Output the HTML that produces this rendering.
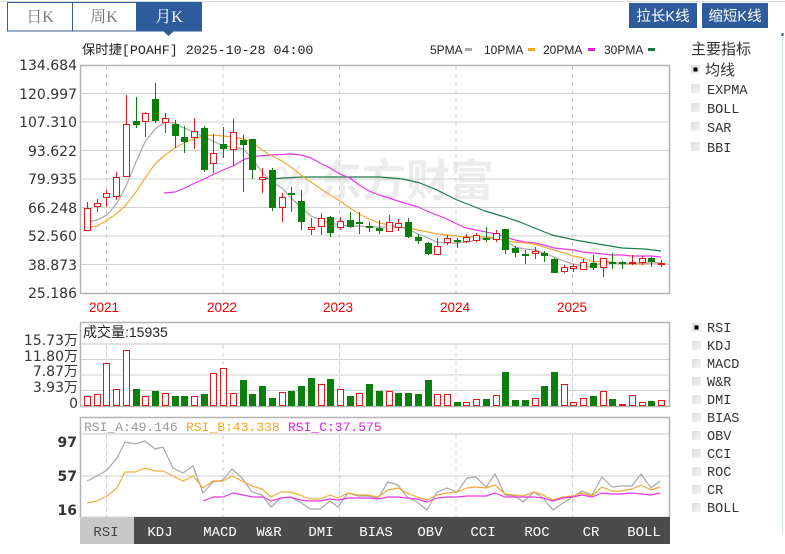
<!DOCTYPE html>
<html><head><meta charset="utf-8">
<style>
html,body{margin:0;padding:0;background:#fff;}
svg{display:block;}
</style></head>
<body>
<svg width="785" height="554" viewBox="0 0 785 554" xmlns="http://www.w3.org/2000/svg">
<rect x="0" y="0" width="785" height="554" fill="#fff"/>
<!-- top bar -->
<line x1="0" y1="1.5" x2="785" y2="1.5" stroke="#d8d8d8" stroke-width="1"/>
<rect x="7.5" y="2.5" width="129" height="28.5" fill="#fff" stroke="#3a5f9a" stroke-width="1"/>
<line x1="72.5" y1="2.5" x2="72.5" y2="31" stroke="#3a5f9a"/>
<rect x="136" y="2" width="66" height="29.5" fill="#2d5b9b"/>
<polygon points="163,31 174,31 168.5,36" fill="#2d5b9b"/>
<g font-family="Liberation Serif, Noto Serif CJK SC, serif" font-size="16" text-anchor="middle">
<text x="40" y="22" fill="#777">日K</text>
<text x="104" y="22" fill="#777">周K</text>
<text x="169" y="22" fill="#fff">月K</text>
</g>
<rect x="629" y="3" width="68" height="25" fill="#2d5b9b"/>
<rect x="702" y="3" width="66" height="25" fill="#2d5b9b"/>
<g font-family="Liberation Sans, Noto Sans CJK SC, sans-serif" font-size="14.5" fill="#fff" text-anchor="middle">
<text x="663" y="21">拉长K线</text>
<text x="735" y="21">缩短K线</text>
</g>
<!-- right vertical line -->
<line x1="782.5" y1="33" x2="782.5" y2="532" stroke="#d3dfec"/>
<line x1="782.5" y1="33" x2="782.5" y2="36" stroke="#2d5b9b" stroke-width="2"/>

<!-- title -->
<text x="82" y="54" font-family="Liberation Mono, Noto Sans CJK SC, monospace" font-size="13.3" fill="#222">保时捷[POAHF] 2025-10-28 04:00</text>
<!-- legend -->
<g font-family="Liberation Sans, sans-serif" font-size="12" fill="#222">
<text x="430" y="54">5PMA</text>
<rect x="465" y="48" width="7" height="3" fill="#aaa"/>
<text x="484" y="54">10PMA</text>
<rect x="528" y="48" width="7" height="3" fill="#f0a820"/>
<text x="543" y="54">20PMA</text>
<rect x="588" y="48" width="7" height="3" fill="#e020e0"/>
<text x="604" y="54">30PMA</text>
<rect x="648" y="48" width="7" height="3" fill="#1a7a4a"/>
</g>

<!-- watermark -->
<text x="318" y="196" font-family="Noto Sans CJK SC, sans-serif" font-size="44" font-weight="bold" fill="#ececec">东方财富</text>
<text x="272" y="196" font-family="Noto Sans CJK SC, sans-serif" font-size="40" font-weight="bold" fill="#efefef">%</text>

<!-- price panel -->
<g stroke="#d2d2d2" stroke-width="1">
<line x1="80" y1="93.5" x2="670" y2="93.5"/>
<line x1="80" y1="122" x2="670" y2="122"/>
<line x1="80" y1="150.5" x2="670" y2="150.5"/>
<line x1="80" y1="179" x2="670" y2="179"/>
<line x1="80" y1="207.5" x2="670" y2="207.5"/>
<line x1="80" y1="236" x2="670" y2="236"/>
<line x1="80" y1="264.5" x2="670" y2="264.5"/>
</g>
<g stroke="#cfcfcf" stroke-width="1" stroke-dasharray="4,4">
<line x1="106.5" y1="66" x2="106.5" y2="293"/>
<line x1="223" y1="66" x2="223" y2="293"/>
<line x1="339.5" y1="66" x2="339.5" y2="293"/>
<line x1="456" y1="66" x2="456" y2="293"/>
<line x1="572.5" y1="66" x2="572.5" y2="293"/>
<line x1="106.5" y1="345" x2="106.5" y2="406"/>
<line x1="223" y1="345" x2="223" y2="406"/>
<line x1="339.5" y1="345" x2="339.5" y2="406"/>
<line x1="456" y1="345" x2="456" y2="406"/>
<line x1="572.5" y1="345" x2="572.5" y2="406"/>
<line x1="106.5" y1="435" x2="106.5" y2="517"/>
<line x1="223" y1="435" x2="223" y2="517"/>
<line x1="339.5" y1="435" x2="339.5" y2="517"/>
<line x1="456" y1="435" x2="456" y2="517"/>
<line x1="572.5" y1="435" x2="572.5" y2="517"/>
</g>
<rect x="80.5" y="65.5" width="589" height="228" fill="none" stroke="#b4b4b4" stroke-width="1.5"/>

<g font-family="DejaVu Sans, sans-serif" font-size="14" fill="#333" text-anchor="end">
<text x="77" y="70">134.684</text>
<text x="77" y="99">120.997</text>
<text x="77" y="127">107.310</text>
<text x="77" y="156">93.622</text>
<text x="77" y="184">79.935</text>
<text x="77" y="213">66.248</text>
<text x="77" y="241">52.560</text>
<text x="77" y="270">38.873</text>
<text x="77" y="298">25.186</text>
</g>
<g font-family="Liberation Sans, sans-serif" font-size="13.5" fill="#e00" text-anchor="middle">
<text x="104" y="312">2021</text>
<text x="222" y="312">2022</text>
<text x="338" y="312">2023</text>
<text x="455" y="312">2024</text>
<text x="572" y="312">2025</text>
</g>

<!-- MAs -->
<g fill="none" stroke-width="1.2" stroke-linejoin="round">
<polyline stroke="#1f7a4e" points="262,178 272,179 283,178 303,177 340,177 380,177 403,179 420,183 437,190 457,200 470,205 485,211 505,217 520,222 532,227 552,235 575,240 598,244 622,248 645,249 661,251"/>
<polyline stroke="#e838e8" points="164,193 175,192 185,188 195,183 204,179 214,174 223,170 233,166 245,159 258,156 272,155 291,154 301,155 311,158 320,163 330,168 340,174 350,178 359,185 369,191 379,195 389,198 398,201 408,204 418,207 427,211 437,215 447,219 457,224 466,228 476,230 486,232 496,234 505,237 515,240 525,242 535,243 544,245 554,248 564,249 574,250 583,252 593,253 603,254 612,255 622,255 632,256 642,256 651,256 661,257"/>
<polyline stroke="#eeab3a" points="87,228 97,226 106,221 116,214 126,205 136,192 145,178 155,164 165,155 175,148 184,143 194,139 204,136 213,135 223,136 233,137 243,139 252,142 262,150 272,156 282,161 291,167 301,175 311,182 321,189 330,195 340,201 350,208 359,214 369,219 379,223 389,225 398,227 408,228 418,230 428,232 437,234 447,235 457,236 466,237 476,237 486,237 496,238 505,241 515,242 525,243 535,244 544,247 554,250 564,253 573,256 583,258 593,262 603,261 612,262 622,264 632,264 642,264 651,263 661,263"/>
<polyline stroke="#a8a8a8" points="87,222 97,220 107,215 117,203 126,186 136,162 145,142 155,129 165,122 175,123 184,128 194,132 204,137 213,141 223,146 233,147 243,149 252,158 262,172 272,182 282,188 291,198 301,207 311,216 321,220 330,223 340,225 350,226 359,226 369,227 379,227 389,227 398,227 408,229 418,234 428,238 437,242 447,243 457,243 466,242 476,240 486,238 496,239 505,240 515,247 525,249 535,250 544,253 554,257 564,261 573,264 583,266 593,267 603,262 612,263 622,264 632,263 642,263 651,263 661,263"/>
</g>

<!-- red candles -->
<g stroke="#e8141a" stroke-width="1" fill="#fff">
<line x1="87.5" y1="202" x2="87.5" y2="231"/><rect x="84.5" y="208.5" width="6" height="22"/>
<line x1="97.5" y1="199" x2="97.5" y2="212"/><rect x="94.5" y="203.5" width="6" height="3"/>
<line x1="106.5" y1="190" x2="106.5" y2="207"/><rect x="103.5" y="193.5" width="6" height="4"/>
<line x1="116.5" y1="172" x2="116.5" y2="200"/><rect x="113.5" y="177.5" width="6" height="19"/>
<line x1="126.5" y1="95" x2="126.5" y2="177"/><rect x="123.5" y="124.5" width="6" height="52"/>
<line x1="145.5" y1="112" x2="145.5" y2="137"/><rect x="142.5" y="113.5" width="6" height="8"/>
<line x1="165.5" y1="113" x2="165.5" y2="133"/><rect x="162.5" y="118.5" width="6" height="4"/>
<line x1="194.5" y1="118" x2="194.5" y2="149"/><rect x="191.5" y="131.5" width="6" height="6"/>
<line x1="213.5" y1="134" x2="213.5" y2="173"/><rect x="210.5" y="153.5" width="6" height="10"/>
<line x1="233.5" y1="119" x2="233.5" y2="166"/><rect x="230.5" y="132.5" width="6" height="17"/>
<line x1="262.5" y1="168" x2="262.5" y2="193"/><rect x="259.5" y="177.5" width="6" height="2"/>
<line x1="282.5" y1="193" x2="282.5" y2="222"/><rect x="279.5" y="197.5" width="6" height="10"/>
<line x1="311.5" y1="218" x2="311.5" y2="235"/><rect x="308.5" y="227.5" width="6" height="2"/>
<line x1="321.5" y1="213" x2="321.5" y2="235"/><rect x="318.5" y="218.5" width="6" height="8"/>
<line x1="340.5" y1="217" x2="340.5" y2="230"/><rect x="337.5" y="221.5" width="6" height="6"/>
<line x1="389.5" y1="215" x2="389.5" y2="232"/><rect x="386.5" y="222.5" width="6" height="9"/>
<line x1="398.5" y1="219" x2="398.5" y2="231"/><rect x="395.5" y="223.5" width="6" height="4"/>
<line x1="437.5" y1="238" x2="437.5" y2="254"/><rect x="434.5" y="246.5" width="6" height="8"/>
<line x1="447.5" y1="235" x2="447.5" y2="245"/><rect x="444.5" y="238.5" width="6" height="4"/>
<line x1="466.5" y1="234" x2="466.5" y2="243"/><rect x="463.5" y="237.5" width="6" height="4"/>
<line x1="476.5" y1="233" x2="476.5" y2="242"/><rect x="473.5" y="235.5" width="6" height="5"/>
<line x1="496.5" y1="230" x2="496.5" y2="242"/><rect x="493.5" y="233.5" width="6" height="6"/>
<line x1="535.5" y1="247" x2="535.5" y2="259"/><rect x="532.5" y="251.5" width="6" height="2"/>
<line x1="564.5" y1="265" x2="564.5" y2="273"/><rect x="561.5" y="267.5" width="6" height="4"/>
<line x1="573.5" y1="264" x2="573.5" y2="272"/><rect x="570.5" y="266.5" width="6" height="2"/>
<line x1="583.5" y1="259" x2="583.5" y2="270"/><rect x="580.5" y="262.5" width="6" height="7"/>
<line x1="603.5" y1="258" x2="603.5" y2="277"/><rect x="600.5" y="258.5" width="6" height="9"/>
<line x1="632.5" y1="255" x2="632.5" y2="265"/><rect x="629.5" y="262.5" width="6" height="1"/>
<line x1="642.5" y1="256" x2="642.5" y2="265"/><rect x="639.5" y="258.5" width="6" height="4"/>
<line x1="661.5" y1="260" x2="661.5" y2="267"/><rect x="658.5" y="263.5" width="6" height="1"/>
</g>
<!-- green candles -->
<g stroke="#0b7f0b" stroke-width="1" fill="#0b7f0b">
<line x1="136.5" y1="97" x2="136.5" y2="128"/><rect x="133" y="121" width="7" height="4" stroke="none"/>
<line x1="155.5" y1="83" x2="155.5" y2="123"/><rect x="152" y="99" width="7" height="22" stroke="none"/>
<line x1="175.5" y1="120" x2="175.5" y2="148"/><rect x="172" y="124" width="7" height="12" stroke="none"/>
<line x1="184.5" y1="126" x2="184.5" y2="153"/><rect x="181" y="137" width="7" height="5" stroke="none"/>
<line x1="204.5" y1="126" x2="204.5" y2="172"/><rect x="201" y="128" width="7" height="42" stroke="none"/>
<line x1="223.5" y1="127" x2="223.5" y2="158"/><rect x="220" y="144" width="7" height="5" stroke="none"/>
<line x1="243.5" y1="135" x2="243.5" y2="192"/><rect x="240" y="140" width="7" height="5" stroke="none"/>
<line x1="252.5" y1="139" x2="252.5" y2="179"/><rect x="249" y="139" width="7" height="31" stroke="none"/>
<line x1="272.5" y1="168" x2="272.5" y2="211"/><rect x="269" y="170" width="7" height="38" stroke="none"/>
<line x1="291.5" y1="187" x2="291.5" y2="212"/><rect x="288" y="193" width="7" height="2" stroke="none"/>
<line x1="301.5" y1="190" x2="301.5" y2="230"/><rect x="298" y="201" width="7" height="21" stroke="none"/>
<line x1="330.5" y1="216" x2="330.5" y2="237"/><rect x="327" y="217" width="7" height="16" stroke="none"/>
<line x1="350.5" y1="212" x2="350.5" y2="228"/><rect x="347" y="220" width="7" height="7" stroke="none"/>
<line x1="359.5" y1="212" x2="359.5" y2="234"/><rect x="356" y="222" width="7" height="2" stroke="none"/>
<line x1="369.5" y1="222" x2="369.5" y2="232"/><rect x="366" y="226" width="7" height="2" stroke="none"/>
<line x1="379.5" y1="220" x2="379.5" y2="234"/><rect x="376" y="228" width="7" height="3" stroke="none"/>
<line x1="408.5" y1="218" x2="408.5" y2="238"/><rect x="405" y="222" width="7" height="15" stroke="none"/>
<line x1="418.5" y1="234" x2="418.5" y2="244"/><rect x="415" y="237" width="7" height="4" stroke="none"/>
<line x1="428.5" y1="242" x2="428.5" y2="255"/><rect x="425" y="243" width="7" height="11" stroke="none"/>
<line x1="457.5" y1="238" x2="457.5" y2="248"/><rect x="454" y="240" width="7" height="2" stroke="none"/>
<line x1="486.5" y1="227" x2="486.5" y2="242"/><rect x="483" y="238" width="7" height="2" stroke="none"/>
<line x1="505.5" y1="229" x2="505.5" y2="254"/><rect x="502" y="229" width="7" height="21" stroke="none"/>
<line x1="515.5" y1="246" x2="515.5" y2="257"/><rect x="512" y="248" width="7" height="5" stroke="none"/>
<line x1="525.5" y1="250" x2="525.5" y2="264"/><rect x="522" y="254" width="7" height="2" stroke="none"/>
<line x1="544.5" y1="251" x2="544.5" y2="262"/><rect x="541" y="253" width="7" height="3" stroke="none"/>
<line x1="554.5" y1="258" x2="554.5" y2="273"/><rect x="551" y="259" width="7" height="14" stroke="none"/>
<line x1="593.5" y1="255" x2="593.5" y2="270"/><rect x="590" y="263" width="7" height="5" stroke="none"/>
<line x1="612.5" y1="253" x2="612.5" y2="269"/><rect x="609" y="262" width="7" height="2" stroke="none"/>
<line x1="622.5" y1="261" x2="622.5" y2="269"/><rect x="619" y="262" width="7" height="2" stroke="none"/>
<line x1="651.5" y1="257" x2="651.5" y2="267"/><rect x="648" y="258" width="7" height="4" stroke="none"/>
</g>

<!-- volume panel -->
<g stroke="#d2d2d2">
<line x1="80" y1="359.5" x2="670" y2="359.5"/>
<line x1="80" y1="375" x2="670" y2="375"/>
<line x1="80" y1="390.5" x2="670" y2="390.5"/>
</g>
<line x1="80" y1="344" x2="670" y2="344" stroke="#c4c4c4"/>
<rect x="80.5" y="322.5" width="589" height="84" fill="none" stroke="#b4b4b4" stroke-width="1.5"/>
<text x="83" y="337" font-family="Liberation Sans, Noto Sans CJK SC, sans-serif" font-size="14" fill="#222">成交量:15935</text>
<g font-family="DejaVu Sans, Noto Sans CJK SC, sans-serif" font-size="14" fill="#333" text-anchor="end">
<text x="78" y="345">15.73万</text>
<text x="78" y="361">11.80万</text>
<text x="78" y="376">7.87万</text>
<text x="78" y="392">3.93万</text>
<text x="78" y="408">0</text>
</g>
<g stroke="#e8141a" fill="#fff">
<rect x="84.5" y="396.5" width="6" height="9"/>
<rect x="94.5" y="394.5" width="6" height="11"/>
<rect x="103.5" y="363.5" width="6" height="42"/>
<rect x="113.5" y="389.5" width="6" height="16"/>
<rect x="123.5" y="350.5" width="6" height="55"/>
<rect x="142.5" y="396.5" width="6" height="9"/>
<rect x="162.5" y="393.5" width="6" height="12"/>
<rect x="191.5" y="396.5" width="6" height="9"/>
<rect x="210.5" y="373.5" width="6" height="32"/>
<rect x="220.5" y="368.5" width="6" height="37"/>
<rect x="230.5" y="393.5" width="6" height="12"/>
<rect x="279.5" y="392.5" width="6" height="13"/>
<rect x="318.5" y="384.5" width="6" height="21"/>
<rect x="337.5" y="389.5" width="6" height="16"/>
<rect x="356.5" y="393.5" width="6" height="12"/>
<rect x="386.5" y="391.5" width="6" height="14"/>
<rect x="434.5" y="394.5" width="6" height="11"/>
<rect x="444.5" y="394.5" width="6" height="11"/>
<rect x="463.5" y="402.5" width="6" height="3"/>
<rect x="473.5" y="399.5" width="6" height="6"/>
<rect x="493.5" y="395.5" width="6" height="10"/>
<rect x="532.5" y="398.5" width="6" height="7"/>
<rect x="561.5" y="384.5" width="6" height="21"/>
<rect x="570.5" y="402.5" width="6" height="3"/>
<rect x="580.5" y="398.5" width="6" height="7"/>
<rect x="600.5" y="391.5" width="6" height="14"/>
<rect x="619.5" y="404.5" width="6" height="1"/>
<rect x="629.5" y="395.5" width="6" height="10"/>
<rect x="639.5" y="402.5" width="6" height="3"/>
<rect x="658.5" y="400.5" width="6" height="5"/>
</g>
<g fill="#0b7f0b">
<rect x="133" y="389" width="7" height="17"/>
<rect x="152" y="391" width="7" height="15"/>
<rect x="172" y="396" width="7" height="10"/>
<rect x="181" y="396" width="7" height="10"/>
<rect x="201" y="394" width="7" height="12"/>
<rect x="240" y="380" width="7" height="26"/>
<rect x="249" y="394" width="7" height="12"/>
<rect x="259" y="386" width="7" height="20"/>
<rect x="269" y="398" width="7" height="8"/>
<rect x="288" y="391" width="7" height="15"/>
<rect x="298" y="386" width="7" height="20"/>
<rect x="308" y="378" width="7" height="28"/>
<rect x="327" y="379" width="7" height="27"/>
<rect x="347" y="396" width="7" height="10"/>
<rect x="366" y="384" width="7" height="22"/>
<rect x="376" y="391" width="7" height="15"/>
<rect x="395" y="393" width="7" height="13"/>
<rect x="405" y="393" width="7" height="13"/>
<rect x="415" y="394" width="7" height="12"/>
<rect x="425" y="380" width="7" height="26"/>
<rect x="454" y="402" width="7" height="4"/>
<rect x="483" y="399" width="7" height="7"/>
<rect x="502" y="372" width="7" height="34"/>
<rect x="512" y="400" width="7" height="6"/>
<rect x="522" y="400" width="7" height="6"/>
<rect x="541" y="386" width="7" height="20"/>
<rect x="551" y="372" width="7" height="34"/>
<rect x="590" y="396" width="7" height="10"/>
<rect x="609" y="399" width="7" height="7"/>
<rect x="648" y="401" width="7" height="5"/>
</g>

<!-- RSI panel -->
<line x1="80" y1="476" x2="670" y2="476" stroke="#d2d2d2"/>
<line x1="80" y1="434" x2="670" y2="434" stroke="#c4c4c4"/>
<rect x="80.5" y="417.5" width="589" height="100" fill="none" stroke="#b4b4b4" stroke-width="1.5"/>
<g font-family="Liberation Mono, monospace" font-size="13">
<text x="84" y="431" fill="#999">RSI_A:49.146</text>
<text x="186" y="431" fill="#f0a820">RSI_B:43.338</text>
<text x="288" y="431" fill="#e020e0">RSI_C:37.575</text>
</g>
<g font-family="DejaVu Sans, sans-serif" font-size="14" font-weight="bold" fill="#333" text-anchor="end">
<text x="77" y="447">97</text>
<text x="77" y="481">57</text>
<text x="77" y="515">16</text>
</g>
<g fill="none" stroke-width="1.2" stroke-linejoin="round">
<polyline stroke="#a8a8a8" points="87,481 97,476 107,470 117,458 125,442 135,444 145,441 155,449 163,447 173,468 183,473 193,466 203,493 213,482 223,480 232,469 242,478 252,492 262,495 271,507 281,498 290,497 300,502 310,509 320,509 330,501 338,507 348,493 358,496 368,496 378,498 388,482 398,485 407,497 417,502 427,510 437,492 447,488 457,492 467,478 476,477 486,487 495,474 505,495 515,496 523,502 534,492 543,498 553,510 563,503 573,497 582,491 592,495 602,477 612,487 621,486 632,486 641,474 651,488 660,481"/>
<polyline stroke="#eeab3a" points="87,503 97,501 107,496 117,488 125,472 135,472 145,468 155,471 163,471 173,476 183,481 193,476 203,488 213,481 223,481 232,476 242,481 252,486 262,489 271,497 281,492 290,492 300,495 310,499 320,499 330,495 338,498 348,493 358,495 368,495 378,497 388,490 398,488 407,493 417,497 427,500 437,495 447,493 457,492 467,488 476,487 486,488 495,485 505,494 515,495 523,496 534,492 543,495 553,500 563,497 573,496 582,493 592,496 602,487 612,491 621,491 632,489 641,485 651,490 660,487"/>
<polyline stroke="#e838e8" points="203,501 213,497 223,497 233,493 243,495 253,497 263,497 271,501 281,498 290,497 300,500 310,501 320,501 330,499 338,500 348,498 358,498 370,498 378,499 388,497 398,497 407,498 417,499 427,502 437,498 447,497 457,497 467,496 476,496 486,496 495,493 505,497 515,497 523,497 534,497 543,498 553,501 563,498 573,497 582,495 592,497 602,493 612,494 621,494 632,493 641,494 651,495 660,493"/>
</g>

<!-- bottom tabs -->
<rect x="80" y="517" width="590" height="27" fill="#4b4b4b"/>
<rect x="80" y="517" width="54" height="27" fill="#c8c8c8"/>
<g font-family="Liberation Mono, monospace" font-size="14" text-anchor="middle" fill="#fff">
<text x="106" y="536" fill="#444">RSI</text>
<text x="160" y="536">KDJ</text>
<text x="220" y="536">MACD</text>
<text x="269" y="536">W&amp;R</text>
<text x="321" y="536">DMI</text>
<text x="376" y="536">BIAS</text>
<text x="430" y="536">OBV</text>
<text x="483" y="536">CCI</text>
<text x="537" y="536">ROC</text>
<text x="591" y="536">CR</text>
<text x="644" y="536">BOLL</text>
</g>

<!-- right panel -->
<text x="691" y="54" font-family="Noto Sans CJK SC, sans-serif" font-size="15" fill="#333">主要指标</text>
<defs>
<linearGradient id="cb" x1="0" y1="0" x2="1" y2="1">
<stop offset="0" stop-color="#dcdcdc"/><stop offset="1" stop-color="#f4f4f4"/>
</linearGradient>
</defs>
<g fill="url(#cb)">
<rect x="691" y="65" width="9" height="9"/>
<rect x="691" y="84" width="9" height="9"/>
<rect x="691" y="103" width="9" height="9"/>
<rect x="691" y="122" width="9" height="9"/>
<rect x="691" y="142" width="9" height="9"/>
<rect x="692" y="323" width="9" height="9"/>
<rect x="692" y="341" width="9" height="9"/>
<rect x="692" y="359" width="9" height="9"/>
<rect x="692" y="377" width="9" height="9"/>
<rect x="692" y="395" width="9" height="9"/>
<rect x="692" y="413" width="9" height="9"/>
<rect x="692" y="431" width="9" height="9"/>
<rect x="692" y="449" width="9" height="9"/>
<rect x="692" y="467" width="9" height="9"/>
<rect x="692" y="485" width="9" height="9"/>
<rect x="692" y="503" width="9" height="9"/>
</g>
<rect x="693.5" y="67.5" width="4" height="4" fill="#000"/>
<rect x="694.5" y="325.5" width="4" height="4" fill="#000"/>
<g font-family="Liberation Mono, Noto Sans CJK SC, monospace" font-size="13.5" fill="#333">
<text x="705" y="75" font-size="15" font-family="Noto Sans CJK SC, sans-serif">均线</text>
<text x="707" y="94">EXPMA</text>
<text x="707" y="113">BOLL</text>
<text x="707" y="132">SAR</text>
<text x="707" y="152">BBI</text>
<text x="707" y="332">RSI</text>
<text x="707" y="350">KDJ</text>
<text x="707" y="368">MACD</text>
<text x="707" y="386">W&amp;R</text>
<text x="707" y="404">DMI</text>
<text x="707" y="422">BIAS</text>
<text x="707" y="440">OBV</text>
<text x="707" y="458">CCI</text>
<text x="707" y="476">ROC</text>
<text x="707" y="494">CR</text>
<text x="707" y="512">BOLL</text>
</g>
</svg>
</body></html>
